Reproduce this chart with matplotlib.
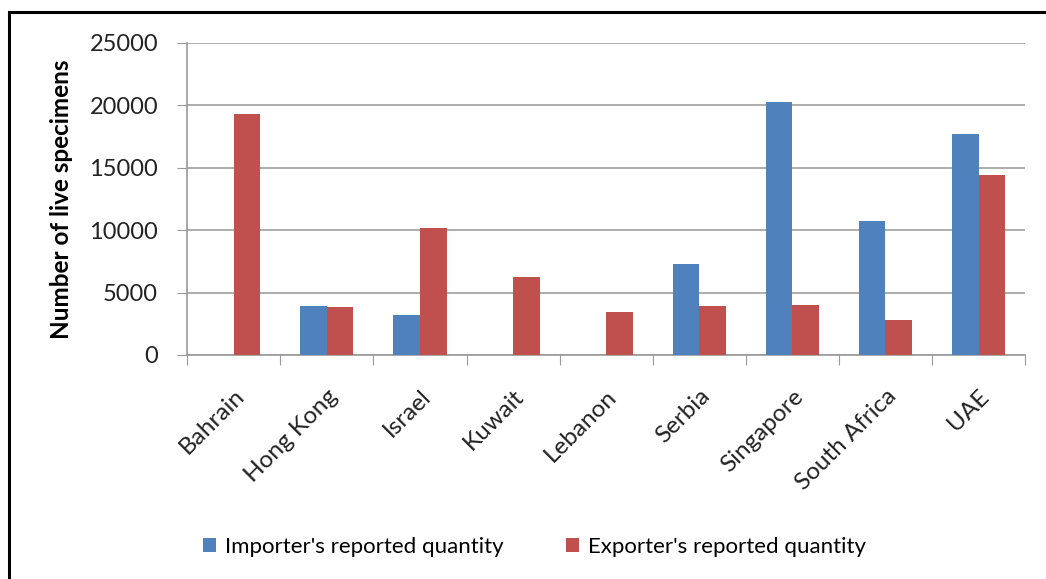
import numpy as np
import matplotlib
matplotlib.use('Agg')
from matplotlib import pyplot as plt
from matplotlib.patches import Rectangle

countries = ['Bahrain', 'Hong Kong', 'Israel', 'Kuwait', 'Lebanon',
             'Serbia', 'Singapore', 'South Africa', 'UAE']
importer = [0, 3900, 3190, 0, 0, 7300, 20260, 10750, 17710]
exporter = [19330, 3800, 10170, 6240, 3400, 3900, 4010, 2790, 14420]
yticks = [0, 5000, 10000, 15000, 20000, 25000]

plt.rcParams['font.family'] = ['Lato', 'DejaVu Sans']

fig = plt.figure(figsize=(10.46, 5.79), dpi=100)
ax = fig.add_axes([0.179, 0.387, 0.801, 0.539])

x = np.arange(len(countries))
w = 0.286
ax.bar(x - w / 2, importer, width=w, color='#4F81BD',
       label="Importer's reported quantity", zorder=3)
ax.bar(x + w / 2, exporter, width=w, color='#C0504D',
       label="Exporter's reported quantity", zorder=3)

ax.set_xlim(-0.5, len(countries) - 0.5)
ax.set_ylim(0, 25000)
ax.set_yticks(yticks)
ax.set_yticklabels([str(v) for v in yticks], fontsize=17, color='#222222')
ax.yaxis.grid(True, color='#a6a6a6', linewidth=1.3, zorder=0)

# category boundaries as ticks, labels at centres
ax.set_xticks(np.arange(-0.5, len(countries), 1))
ax.set_xticklabels([])
ax.set_xticks(x, minor=True)
ax.set_xticklabels(countries, minor=True, rotation=45, ha='right',
                   va='top', rotation_mode='anchor', fontsize=17.5,
                   color='#222222')
ax.tick_params(axis='x', which='minor', length=0, pad=22)
ax.tick_params(axis='x', which='major', length=7, color='#999999')
ax.tick_params(axis='y', length=7, color='#999999', pad=14)

for s in ['top', 'right']:
    ax.spines[s].set_visible(False)
for s in ['left', 'bottom']:
    ax.spines[s].set_color('#999999')
    ax.spines[s].set_linewidth(1.2)

ax.set_ylabel('Number of live specimens', fontsize=17.5, fontweight='bold',
              labelpad=12)

fig.legend(loc='center', bbox_to_anchor=(0.511, 0.056), ncol=2,
           frameon=False, fontsize=16, handlelength=0.6,
           handleheight=0.6, columnspacing=2.8, handletextpad=0.4)

# chart border (cut by the image on right and bottom)
fig.patches.append(Rectangle((9 / 1046, -0.1), 1.2, 1.1 - 12 / 579,
                             transform=fig.transFigure, fill=False,
                             edgecolor='black', linewidth=2.2))

fig.savefig('out.png', dpi=100)
